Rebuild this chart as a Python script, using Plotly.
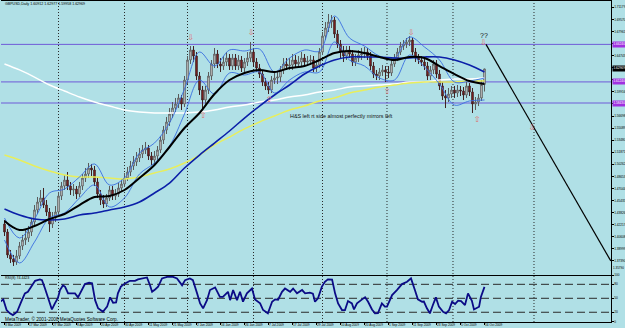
import plotly.graph_objects as go

# ---------------- data ----------------
title_text = "GBPUSD,Daily 1.60912 1.62977 1.59958 1.62969"
rsi_title = "RSI(8) 74.4423"
copyright_text = "MetaTrader, \u00a9 2001-2008 MetaQuotes Software Corp."
note_text = "H&S left rt side almost perfectly mirrors left"

first_open = 1.4231
close = [
    1.4125, 1.3819, 1.3765, 1.3725, 1.3805, 1.3938, 1.4018, 1.4045, 1.4125, 1.4258,
    1.4418, 1.4524, 1.4578, 1.4484, 1.4391, 1.4231, 1.4311, 1.4391, 1.4604, 1.4737,
    1.4817, 1.4737, 1.4684, 1.4697, 1.4631, 1.4737, 1.4844, 1.4897, 1.4977, 1.4951,
    1.4791, 1.4631, 1.4551, 1.4498, 1.4578, 1.4684, 1.4604, 1.4631, 1.4711, 1.4764,
    1.4844, 1.4924, 1.5004, 1.5057, 1.5110, 1.5164, 1.5217, 1.5244, 1.5137, 1.5084,
    1.5137, 1.5217, 1.5350, 1.5483, 1.5590, 1.5697, 1.5776, 1.5830, 1.5910, 1.5830,
    1.6149, 1.6416, 1.6549, 1.6469, 1.6203, 1.6016, 1.5883, 1.6016, 1.6203, 1.6363,
    1.6496, 1.6363, 1.6336, 1.6389, 1.6442, 1.6336, 1.6442, 1.6336, 1.6416, 1.6309,
    1.6389, 1.6442, 1.6522, 1.6389, 1.6309, 1.6229, 1.6123, 1.6070, 1.6016, 1.6149,
    1.6176, 1.6189, 1.6283, 1.6363, 1.6336, 1.6349, 1.6416, 1.6363, 1.6389, 1.6442,
    1.6389, 1.6402, 1.6416, 1.6309, 1.6349, 1.6522, 1.6735, 1.6842, 1.6922, 1.6949,
    1.6762, 1.6629, 1.6522, 1.6469, 1.6549, 1.6496, 1.6389, 1.6442, 1.6482, 1.6496,
    1.6522, 1.6469, 1.6336, 1.6229, 1.6203, 1.6256, 1.6283, 1.6256, 1.6243, 1.6363,
    1.6442, 1.6522, 1.6602, 1.6629, 1.6656, 1.6682, 1.6522, 1.6442, 1.6416, 1.6389,
    1.6336, 1.6203, 1.6283, 1.6363, 1.6229, 1.6070, 1.5936, 1.5910, 1.5963, 1.6016,
    1.5976, 1.6016, 1.6003, 1.5950, 1.6070, 1.5990, 1.5830, 1.5856, 1.5910, 1.60912,
    1.62969]
high = [
    1.4285, 1.4165, 1.3885, 1.3819, 1.3885, 1.3992, 1.4085, 1.4151, 1.4205, 1.4311,
    1.4484, 1.4591, 1.4684, 1.4711, 1.4551, 1.4444, 1.4391, 1.4471, 1.4658, 1.4791,
    1.4884, 1.4924, 1.4791, 1.4764, 1.4737, 1.4791, 1.4897, 1.4977, 1.5044, 1.5031,
    1.5004, 1.4844, 1.4684, 1.4618, 1.4631, 1.4737, 1.4737, 1.4697, 1.4777, 1.4831,
    1.4911, 1.4991, 1.5071, 1.5137, 1.5190, 1.5244, 1.5284, 1.5324, 1.5284, 1.5190,
    1.5204, 1.5270, 1.5404, 1.5537, 1.5657, 1.5776, 1.5856, 1.5910, 1.5963, 1.5950,
    1.6203, 1.6469, 1.6602, 1.6602, 1.6522, 1.6256, 1.6070, 1.6070, 1.6256, 1.6416,
    1.6576, 1.6549, 1.6442, 1.6469, 1.6522, 1.6496, 1.6496, 1.6496, 1.6482, 1.6469,
    1.6442, 1.6522, 1.6656, 1.6576, 1.6442, 1.6363, 1.6283, 1.6176, 1.6123, 1.6203,
    1.6256, 1.6256, 1.6336, 1.6442, 1.6442, 1.6442, 1.6496, 1.6482, 1.6469, 1.6522,
    1.6496, 1.6469, 1.6482, 1.6469, 1.6416, 1.6576, 1.6789, 1.6922, 1.7029, 1.7015,
    1.6989, 1.6815, 1.6682, 1.6602, 1.6602, 1.6602, 1.6549, 1.6496, 1.6549, 1.6576,
    1.6589, 1.6576, 1.6522, 1.6389, 1.6283, 1.6309, 1.6349, 1.6336, 1.6336, 1.6416,
    1.6496, 1.6576, 1.6656, 1.6682, 1.6709, 1.6735, 1.6709, 1.6576, 1.6496, 1.6469,
    1.6442, 1.6389, 1.6336, 1.6416, 1.6416, 1.6283, 1.6123, 1.6016, 1.6043, 1.6070,
    1.6070, 1.6083, 1.6070, 1.6056, 1.6123, 1.6109, 1.6043, 1.5923, 1.5963, 1.6149,
    1.62977]
low = [
    1.4071, 1.3779, 1.3712, 1.3672, 1.3686, 1.3765, 1.3885, 1.3952, 1.3992, 1.4071,
    1.4218, 1.4364, 1.4471, 1.4444, 1.4338, 1.4125, 1.4178, 1.4258, 1.4351, 1.4551,
    1.4684, 1.4684, 1.4618, 1.4604, 1.4564, 1.4591, 1.4684, 1.4791, 1.4844, 1.4871,
    1.4737, 1.4578, 1.4484, 1.4444, 1.4458, 1.4538, 1.4551, 1.4551, 1.4591, 1.4658,
    1.4724, 1.4804, 1.4871, 1.4951, 1.5004, 1.5057, 1.5110, 1.5164, 1.5084, 1.5017,
    1.5031, 1.5084, 1.5177, 1.5297, 1.5430, 1.5537, 1.5643, 1.5723, 1.5776, 1.5750,
    1.5790, 1.6096, 1.6363, 1.6389, 1.6149, 1.5950, 1.5750, 1.5830, 1.5963, 1.6149,
    1.6309, 1.6309, 1.6256, 1.6283, 1.6336, 1.6283, 1.6283, 1.6283, 1.6283, 1.6256,
    1.6256, 1.6336, 1.6389, 1.6336, 1.6256, 1.6176, 1.6070, 1.6016, 1.5963, 1.5976,
    1.6096, 1.6096, 1.6123, 1.6229, 1.6283, 1.6283, 1.6283, 1.6309, 1.6309, 1.6336,
    1.6336, 1.6336, 1.6349, 1.6256, 1.6256, 1.6309, 1.6482, 1.6682, 1.6789, 1.6842,
    1.6709, 1.6576, 1.6442, 1.6389, 1.6416, 1.6442, 1.6336, 1.6336, 1.6389, 1.6416,
    1.6442, 1.6416, 1.6283, 1.6176, 1.6149, 1.6149, 1.6203, 1.6123, 1.6176, 1.6203,
    1.6323, 1.6402, 1.6482, 1.6549, 1.6576, 1.6602, 1.6482, 1.6389, 1.6363, 1.6336,
    1.6283, 1.6149, 1.6149, 1.6229, 1.6176, 1.6016, 1.5883, 1.5776, 1.5856, 1.5910,
    1.5910, 1.5923, 1.5936, 1.5883, 1.5910, 1.5936, 1.5710, 1.5750, 1.5803, 1.5870,
    1.59958]
assert len(close) == len(high) == len(low) == 161

# indicator lines, read every 5 bars
ma_bars = [0, 5, 10, 15, 20, 25, 30, 35, 40, 45, 50, 55, 60, 65, 70, 75, 80,
           85, 90, 95, 100, 105, 110, 115, 120, 125, 130, 135, 140, 145, 150, 155, 160]
black_ma = [1.4271, 1.4151, 1.4205, 1.4298, 1.4364, 1.4484, 1.4591, 1.4604, 1.4684, 1.4844,
            1.5017, 1.5257, 1.5510, 1.5710, 1.5963, 1.6149, 1.6243, 1.6283, 1.6256, 1.6309,
            1.6336, 1.6416, 1.6509, 1.6536, 1.6509, 1.6456, 1.6416, 1.6456, 1.6442, 1.6336,
            1.6229, 1.6136, 1.6096]
blue_ma = [1.4431, 1.4351, 1.4298, 1.4285, 1.4298, 1.4351, 1.4378, 1.4418, 1.4458, 1.4524,
           1.4644, 1.4777, 1.4977, 1.5150, 1.5310, 1.5470, 1.5643, 1.5803, 1.5950, 1.6083,
           1.6229, 1.6336, 1.6416, 1.6456, 1.6456, 1.6456, 1.6442, 1.6442, 1.6456, 1.6456,
           1.6416, 1.6349, 1.6256]
yellow_ma = [1.5150, 1.5084, 1.5004, 1.4937, 1.4884, 1.4857, 1.4857, 1.4844, 1.4831, 1.4857,
             1.4911, 1.4964, 1.5044, 1.5150, 1.5284, 1.5390, 1.5497, 1.5590, 1.5670, 1.5750,
             1.5803, 1.5870, 1.5910, 1.5976, 1.6016, 1.6056, 1.6083, 1.6109, 1.6123, 1.6123,
             1.6123, 1.6136, 1.6136]
white_ma = [1.6363, 1.6283, 1.6189, 1.6083, 1.6003, 1.5923, 1.5856, 1.5803, 1.5750, 1.5723,
            1.5710, 1.5710, 1.5710, 1.5723, 1.5750, 1.5790, 1.5816, 1.5856, 1.5883, 1.5923,
            1.5950, 1.5990, 1.6016, 1.6056, 1.6070, 1.6083, 1.6096, 1.6123, 1.6123, 1.6149,
            1.6163, 1.6163, 1.6176]
upper_band = [1.4311, 1.4045, 1.4298, 1.4644, 1.4697, 1.4857, 1.5031, 1.4751, 1.4844, 1.5177,
              1.5310, 1.5577, 1.6030, 1.6522, 1.6336, 1.6549, 1.6536, 1.6562, 1.6256, 1.6442,
              1.6549, 1.6536, 1.7002, 1.6709, 1.6602, 1.6469, 1.6442, 1.6722, 1.6589, 1.6416,
              1.6123, 1.6136, 1.6176]
lower_band = [1.4018, 1.3712, 1.3992, 1.4311, 1.4378, 1.4578, 1.4751, 1.4458, 1.4578, 1.4897,
              1.5044, 1.5270, 1.5697, 1.6149, 1.5963, 1.6243, 1.6216, 1.6256, 1.5976, 1.6149,
              1.6256, 1.6256, 1.6656, 1.6416, 1.6336, 1.6176, 1.6149, 1.6482, 1.6323, 1.6096,
              1.5816, 1.5870, 1.5883]

# RSI(8) line readings: (bar position, value)
rsi_readings = [
    (-1.5, 42.6), (-0.4, 47.7), (0.7, 24.8), (1.8, 17.7), (2.8, 14.0), (4.2, 21.0),
    (5.8, 46.0), (6.8, 60.6), (7.8, 64.0), (9.2, 78.0), (10.2, 87.6), (11.8, 90.6),
    (12.5, 89.0), (13.5, 71.0), (14.5, 53.0), (15.8, 26.0), (16.8, 39.0), (17.8, 50.5),
    (18.5, 67.7), (19.5, 78.0), (20.2, 74.7), (21.2, 60.6), (22.5, 60.6), (23.5, 60.6),
    (24.5, 52.0), (25.8, 67.7), (26.8, 80.5), (28.2, 83.3), (29.2, 82.0), (30.2, 46.0),
    (31.2, 28.5), (32.8, 21.0), (34.2, 32.0), (35.2, 52.0), (36.2, 40.5), (37.2, 41.0),
    (37.8, 60.6), (38.8, 75.0), (40.2, 82.0), (41.8, 87.6), (43.5, 87.6), (44.5, 90.6),
    (46.2, 92.7), (47.5, 94.8), (48.5, 78.0), (49.2, 64.0), (50.2, 69.0), (51.2, 74.7),
    (52.5, 92.7), (54.2, 96.0), (56.2, 96.0), (57.5, 92.7), (59.2, 78.0), (60.2, 89.0),
    (61.8, 92.7), (62.8, 89.0), (64.2, 60.6), (65.2, 39.0), (66.2, 28.5), (67.5, 46.0),
    (68.5, 67.7), (70.2, 73.4), (71.8, 53.0), (72.8, 53.0), (74.5, 64.0), (75.2, 46.0),
    (76.2, 67.7), (77.5, 46.0), (78.5, 64.0), (79.5, 42.6), (80.8, 60.6), (82.5, 71.0),
    (83.5, 47.7), (85.2, 39.0), (86.2, 24.8), (87.8, 17.7), (89.2, 42.6), (90.2, 47.7),
    (91.2, 47.0), (92.5, 64.0), (93.5, 71.0), (95.2, 64.0), (96.2, 71.0), (97.5, 60.6),
    (99.2, 67.7), (100.2, 60.6), (101.8, 62.0), (102.8, 60.0), (103.5, 42.6), (104.5, 50.0),
    (105.8, 75.0), (106.8, 85.5), (107.8, 90.6), (109.2, 90.0), (110.2, 60.6), (111.2, 39.0),
    (112.5, 24.8), (113.5, 24.8), (114.5, 44.0), (115.8, 39.0), (116.5, 26.0), (117.5, 39.0),
    (119.2, 47.7), (120.2, 52.0), (121.2, 42.6), (122.5, 26.0), (123.5, 17.7), (124.5, 18.0),
    (125.8, 39.0), (126.8, 32.0), (127.5, 32.0), (129.2, 57.0), (130.8, 67.7), (132.5, 80.5),
    (134.2, 85.5), (135.5, 92.7), (136.8, 67.7), (137.8, 47.7), (139.2, 42.6), (139.8, 43.0),
    (140.8, 28.5), (141.8, 17.7), (142.8, 35.5), (143.8, 52.0), (144.8, 32.0), (146.2, 21.0),
    (147.2, 17.7), (148.2, 24.8), (149.2, 42.6), (150.2, 37.7), (151.2, 44.8), (152.2, 44.0),
    (153.5, 35.5), (154.5, 60.6), (155.8, 44.8), (156.5, 26.0), (158.2, 32.0), (158.8, 53.0),
    (160.0, 74.4423)]

date_label_bars = [0, 8, 16, 24, 32, 40, 48, 56, 64, 72, 80, 88, 96, 104, 112, 120, 128,
                   136, 144, 152, 160]
date_labels = ["3 Mar 2009", "17 Mar 2009", "27 Mar 2009", "8 Apr 2009", "20 Apr 2009",
               "30 Apr 2009", "11 May 2009", "21 May 2009", "2 Jun 2009", "16 Jun 2009",
               "26 Jun 2009", "7 Jul 2009", "17 Jul 2009", "29 Jul 2009", "10 Aug 2009",
               "20 Aug 2009", "1 Sep 2009", "11 Sep 2009", "23 Sep 2009", "5 Oct 2009",
               "16 Oct 2009"]
month_grid_bars = [18, 40, 61, 83, 106, 127.5, 149.5, 176.5]

# price scale labels (those hidden under the level / bid labels are left blank)
price_ticks = [1.37390, 1.38999, 1.40608, 1.42217, 1.43826, 1.45435, 1.47044,
               1.48653, 1.50262, 1.51871, 1.53480, 1.55089, 1.56698, 1.58307, 1.59916,
               1.61525, 1.63134, 1.64743, 1.66352, 1.67961, 1.69570, 1.71179]
hidden_ticks = [1.58307, 1.61525, 1.63134, 1.66352]
bottom_price_label = "1.35790"
level_prices = [1.66240, 1.61240, 1.58430]
last_price = 1.62969
rsi_levels = [20, 50, 80]
rsi_ticks = [0, 20, 50, 80, 100]

down_arrow_bars = [62.0, 82.2, 135.5, 159.6, 175.8]
down_arrow_prices = [1.6705, 1.6775, 1.6771, 1.6638, 1.5510]
up_arrow_bars = [66.2, 88.2, 127.5, 157.5]
up_arrow_prices = [1.5670, 1.5883, 1.5990, 1.5617]
question_bar, question_price = 159.7, 1.6749
note_bar, note_price = 112.2, 1.5670
trend_bars = [160.5, 202.1]
trend_prices = [1.6624, 1.3739]

# ---------------- figure ----------------
BG = "#B0E0E6"
FONT = "Liberation Sans"
bars = list(range(len(close)))
open_ = [first_open] + close[:-1]   # daily open = previous close

fig = go.Figure()

fig.add_trace(go.Scatter(x=ma_bars, y=white_ma, mode="lines", line=dict(color="#ffffff", width=1.4, shape="spline"),
                         hoverinfo="skip"))
fig.add_trace(go.Scatter(x=ma_bars, y=yellow_ma, mode="lines", line=dict(color="#e8ee5c", width=1.4, shape="spline"),
                         hoverinfo="skip"))
fig.add_trace(go.Candlestick(
    x=bars, open=open_, high=high, low=low, close=close,
    increasing=dict(line=dict(color="#5a5a5a", width=1), fillcolor="#f4f4f4"),
    decreasing=dict(line=dict(color="#402020", width=1), fillcolor="#a31f1f"),
    whiskerwidth=0, hoverinfo="skip", xaxis="x", yaxis="y"))
fig.add_trace(go.Scatter(x=ma_bars, y=upper_band, mode="lines", line=dict(color="#3a6ee0", width=0.9, shape="spline"),
                         hoverinfo="skip"))
fig.add_trace(go.Scatter(x=ma_bars, y=lower_band, mode="lines", line=dict(color="#3a6ee0", width=0.9, shape="spline"),
                         hoverinfo="skip"))
fig.add_trace(go.Scatter(x=ma_bars, y=blue_ma, mode="lines", line=dict(color="#0b1fa8", width=1.6, shape="spline"),
                         hoverinfo="skip"))
fig.add_trace(go.Scatter(x=ma_bars, y=black_ma, mode="lines", line=dict(color="#000000", width=2.0, shape="spline"),
                         hoverinfo="skip"))
fig.add_trace(go.Scatter(x=trend_bars, y=trend_prices, mode="lines", line=dict(color="#000000", width=1.2),
                         hoverinfo="skip"))
fig.add_trace(go.Scatter(x=down_arrow_bars, y=down_arrow_prices, mode="text", text=["\u21e9"] * len(down_arrow_bars),
                         textfont=dict(family="DejaVu Sans", size=8, color="#e06a6a"), hoverinfo="skip"))
fig.add_trace(go.Scatter(x=up_arrow_bars, y=up_arrow_prices, mode="text", text=["\u21e7"] * len(up_arrow_bars),
                         textfont=dict(family="DejaVu Sans", size=8, color="#e06a6a"), hoverinfo="skip"))

rsi_x = [b for b, _ in rsi_readings]
rsi_y = [v for _, v in rsi_readings]
fig.add_trace(go.Scatter(x=rsi_x, y=rsi_y, mode="lines", line=dict(color="#0b0b86", width=1.8),
                         xaxis="x2", yaxis="y2", hoverinfo="skip"))

shapes = []
for b in month_grid_bars:
    shapes.append(dict(type="line", xref="x", yref="paper", x0=b, x1=b, y0=0, y1=1,
                       line=dict(color="#2a2a2a", width=1, dash="1px,2px"), layer="below"))
for lv in level_prices:
    shapes.append(dict(type="line", xref="paper", yref="y", x0=0, x1=1, y0=lv, y1=lv,
                       line=dict(color="#6f5ad8", width=1), layer="below"))
for lv in rsi_levels:
    shapes.append(dict(type="line", xref="paper", yref="y2", x0=0, x1=1, y0=lv, y1=lv,
                       line=dict(color="#2a2a2a", width=1, dash="8px,4px"), layer="below"))

annotations = [
    dict(xref="paper", yref="paper", x=0.0033, y=0.9907, text=title_text, showarrow=False,
         xanchor="left", yanchor="middle", font=dict(family=FONT, size=3.6, color="#000")),
    dict(xref="paper", yref="paper", x=0.0033, y=0.137, text=rsi_title, showarrow=False,
         xanchor="left", yanchor="middle", font=dict(family=FONT, size=3.6, color="#000")),
    dict(xref="paper", yref="paper", x=0.0033, y=0.0093, text=copyright_text, showarrow=False,
         xanchor="left", yanchor="middle", font=dict(family=FONT, size=4.7, color="#000")),
    dict(xref="x", yref="y", x=note_bar, y=note_price, text=note_text, showarrow=False,
         xanchor="center", yanchor="middle", font=dict(family=FONT, size=5.4, color="#111")),
    dict(xref="x", yref="y", x=question_bar, y=question_price, text="??", showarrow=False,
         xanchor="center", yanchor="middle", font=dict(family=FONT, size=7, color="#111")),
    dict(xref="paper", yref="paper", x=1, xshift=0.5, y=0.169, text=bottom_price_label, showarrow=False,
         xanchor="left", yanchor="middle", borderpad=0,
         font=dict(family=FONT, size=3.0, color="#000")),
]
for lv in level_prices:
    annotations.append(dict(xref="paper", yref="y", x=1, xshift=1, y=lv, text=f"{lv:.5f}", showarrow=False,
                            xanchor="left", yanchor="middle", bgcolor="#a030e0", borderpad=0.4,
                            font=dict(family=FONT, size=3.2, color="#ffffff")))
annotations.append(dict(xref="paper", yref="y", x=1, xshift=1, y=last_price, text=f"{last_price:.5f}", showarrow=False,
                        xanchor="left", yanchor="middle", bgcolor="#000000", borderpad=0.4,
                        font=dict(family=FONT, size=3.2, color="#ffffff")))
# date labels under the RSI panel, left-aligned at their bar (MetaTrader style)
for b, t in zip(date_label_bars, date_labels):
    annotations.append(dict(xref="x2", yref="paper", x=b, xshift=-1.5, y=-0.0095, text=t, showarrow=False,
                            xanchor="left", yanchor="middle",
                            font=dict(family=FONT, size=3.2, color="#000")))

tickfont = dict(family=FONT, size=3.2, color="#000")
xr = [-1.167, 202.17]
price_ticktext = ["" if v in hidden_ticks else f"{v:.5f}" for v in price_ticks]
fig.update_layout(
    template="none",
    width=625, height=328,
    margin=dict(l=1, r=14, t=1, b=6, pad=0),
    paper_bgcolor=BG, plot_bgcolor=BG,
    showlegend=False,
    shapes=shapes, annotations=annotations,
    xaxis=dict(domain=[0, 1], anchor="y", range=xr, showticklabels=False, ticks="",
               showgrid=False, zeroline=False, showline=True, linecolor="#000", linewidth=1,
               mirror=True, rangeslider=dict(visible=False), automargin=False),
    xaxis2=dict(domain=[0, 1], anchor="y2", range=xr, tickmode="array", tickvals=date_label_bars,
                showticklabels=False, ticks="outside", ticklen=1.5, tickcolor="#000",
                showgrid=False, zeroline=False, showline=True, linecolor="#000", linewidth=1,
                automargin=False),
    yaxis=dict(domain=[0.1474, 1], anchor="x", side="right", range=[1.3556, 1.7202], tickmode="array",
               tickvals=price_ticks, ticktext=price_ticktext, ticks="outside",
               ticklen=1.5, tickcolor="#000", tickfont=tickfont, showline=True, linecolor="#000",
               linewidth=1, showgrid=False, zeroline=False, automargin=False),
    yaxis2=dict(domain=[0, 0.1464], anchor="x2", side="right", range=[-0.9, 100], tickmode="array",
                tickvals=rsi_ticks, ticktext=[str(t) for t in rsi_ticks], ticks="outside", ticklen=1.5,
                tickcolor="#000", tickfont=tickfont, showline=True, linecolor="#000", linewidth=1,
                showgrid=False, zeroline=False, automargin=False),
)

fig.write_html("out.html")
